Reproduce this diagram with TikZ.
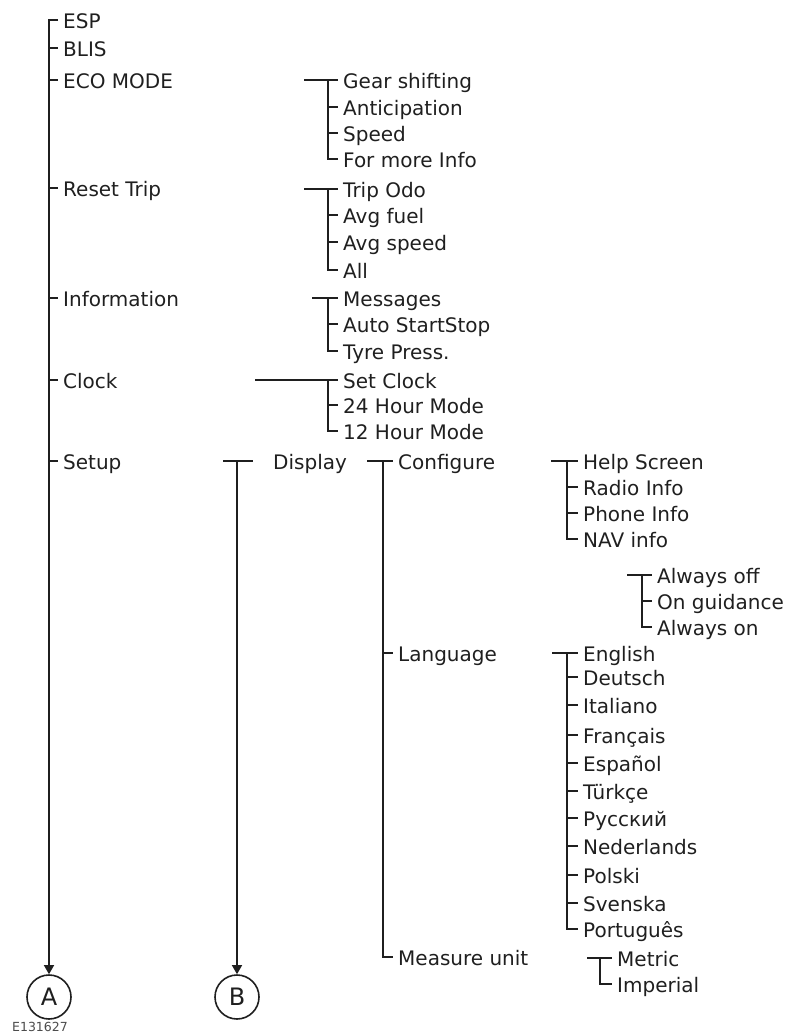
\documentclass[tikz,border=0pt]{standalone}
\usepackage{fontspec}
\setmainfont{DejaVu Sans}
\usetikzlibrary{arrows.meta}
\definecolor{ink}{gray}{0.12}
\begin{document}
\begin{tikzpicture}[x=1pt,y=-1pt,
  lbl/.style={anchor=west,inner sep=0pt,text height=18pt,text depth=1pt,
    font=\fontsize{20}{20}\selectfont,text=ink},
  ln/.style={line width=1.3pt,draw=ink},
  tip/.style={-{Triangle[width=10pt,length=9pt]}},
  ring/.style={circle,draw=ink,line width=1.6pt,minimum size=44pt,inner sep=0pt,
    font=\fontsize{24}{24}\selectfont,text=ink}]
\useasboundingbox (0,0) rectangle (789,1033);

% ---------- text nodes ----------
\foreach \n/\t/\y in {esp/ESP/20, blis/BLIS/48, eco/ECO MODE/80, reset/Reset Trip/188,
  info/Information/298, clock/Clock/380, setup/Setup/461}
  \node[lbl] (\n) at (63,\y) {\t};
\foreach \n/\t/\y in {gear/Gear shifting/80, antic/Anticipation/107, speed/Speed/133,
  more/For more Info/159, odo/Trip Odo/189, fuel/Avg fuel/215, avgsp/Avg speed/242,
  all/All/270, msg/Messages/298, auto/Auto StartStop/324, tyre/Tyre Press./351,
  setc/Set Clock/380, hA/24 Hour Mode/405, hB/12 Hour Mode/431}
  \node[lbl] (\n) at (343,\y) {\t};
\node[lbl] (display) at (273,461) {Display};
\foreach \n/\t/\y in {conf/Configure/461, lang/Language/653, meas/Measure unit/957}
  \node[lbl] (\n) at (398,\y) {\t};
\foreach \n/\t/\y in {help/Help Screen/461, radio/Radio Info/487, phone/Phone Info/513,
  nav/NAV info/539}
  \node[lbl] (\n) at (583,\y) {\t};
\foreach \n/\t/\y in {aoff/Always off/575, guid/On guidance/601, aon/Always on/627}
  \node[lbl] (\n) at (657,\y) {\t};
\foreach \n/\t/\y in {en/English/653, de/Deutsch/677, it/Italiano/705, fr/Français/735,
  es/Español/763, tr/Türkçe/791, ru/Русский/818, nl/Nederlands/846, pl/Polski/875,
  sv/Svenska/903, pt/Português/929}
  \node[lbl] (\n) at (583,\y) {\t};
\foreach \n/\t/\y in {metric/Metric/958, imp/Imperial/984}
  \node[lbl] (\n) at (617,\y) {\t};

% ---------- circles ----------
\node[ring] (A) at (49,997) {A};
\node[ring] (B) at (237,997) {B};
\node[inner sep=0pt,font=\fontsize{12.5}{12.5}\selectfont,text=black!70] (code) at (40,1027) {E131627};

% ---------- coordinates ----------
\coordinate (vMain) at (49,0);
\coordinate (vMid) at (328,0);
\coordinate (vDisp) at (383,0);
\coordinate (vConf) at (567,0);
\coordinate (vNav) at (642,0);
\coordinate (vMeas) at (600,0);
\coordinate (sEco) at (304,80);
\coordinate (sReset) at (304,189);
\coordinate (sInfo) at (312,298);
\coordinate (sClock) at (255,380);
\coordinate (sDisp) at (367,461);
\coordinate (sConf) at (551,461);
\coordinate (sNav) at (627,575);
\coordinate (sLang) at (552,653);
\coordinate (sMeas) at (587,958);
\coordinate (bL) at (223,461);
\coordinate (bR) at (253,461);

% ---------- main spine ----------
\draw[ln,tip] ([xshift=-5pt]esp.west) -| (A.north);
\foreach \n in {blis,eco,reset,info,clock,setup}
  \draw[ln] (vMain |- \n.west) -- ([xshift=-5pt]\n.west);

% ---------- B ----------
\draw[ln] (bL) -- (bR);
\draw[ln,tip] (bL -| B.north) -- (B.north);

% ---------- ECO MODE ----------
\draw[ln] (sEco) -- ([xshift=-5pt]gear.west);
\draw[ln] (vMid |- gear.west) |- ([xshift=-5pt]more.west);
\foreach \n in {antic,speed} \draw[ln] (vMid |- \n.west) -- ([xshift=-5pt]\n.west);

% ---------- Reset Trip ----------
\draw[ln] (sReset) -- ([xshift=-5pt]odo.west);
\draw[ln] (vMid |- odo.west) |- ([xshift=-5pt]all.west);
\foreach \n in {fuel,avgsp} \draw[ln] (vMid |- \n.west) -- ([xshift=-5pt]\n.west);

% ---------- Information ----------
\draw[ln] (sInfo) -- ([xshift=-5pt]msg.west);
\draw[ln] (vMid |- msg.west) |- ([xshift=-5pt]tyre.west);
\draw[ln] (vMid |- auto.west) -- ([xshift=-5pt]auto.west);

% ---------- Clock ----------
\draw[ln] (sClock) -- ([xshift=-5pt]setc.west);
\draw[ln] (vMid |- setc.west) |- ([xshift=-5pt]hB.west);
\draw[ln] (vMid |- hA.west) -- ([xshift=-5pt]hA.west);

% ---------- Display ----------
\draw[ln] (sDisp) -- ([xshift=-5pt]conf.west);
\draw[ln] (vDisp |- conf.west) |- ([xshift=-5pt]meas.west);
\draw[ln] (vDisp |- lang.west) -- ([xshift=-5pt]lang.west);

% ---------- Configure ----------
\draw[ln] (sConf) -- ([xshift=-5pt]help.west);
\draw[ln] (vConf |- help.west) |- ([xshift=-5pt]nav.west);
\foreach \n in {radio,phone} \draw[ln] (vConf |- \n.west) -- ([xshift=-5pt]\n.west);

% ---------- NAV info ----------
\draw[ln] (sNav) -- ([xshift=-5pt]aoff.west);
\draw[ln] (vNav |- aoff.west) |- ([xshift=-5pt]aon.west);
\draw[ln] (vNav |- guid.west) -- ([xshift=-5pt]guid.west);

% ---------- Language ----------
\draw[ln] (sLang) -- ([xshift=-5pt]en.west);
\draw[ln] (vConf |- en.west) |- ([xshift=-5pt]pt.west);
\foreach \n in {de,it,fr,es,tr,ru,nl,pl,sv} \draw[ln] (vConf |- \n.west) -- ([xshift=-5pt]\n.west);

% ---------- Measure unit ----------
\draw[ln] (sMeas) -- ([xshift=-5pt]metric.west);
\draw[ln] (vMeas |- metric.west) |- ([xshift=-5pt]imp.west);
\end{tikzpicture}
\end{document}
